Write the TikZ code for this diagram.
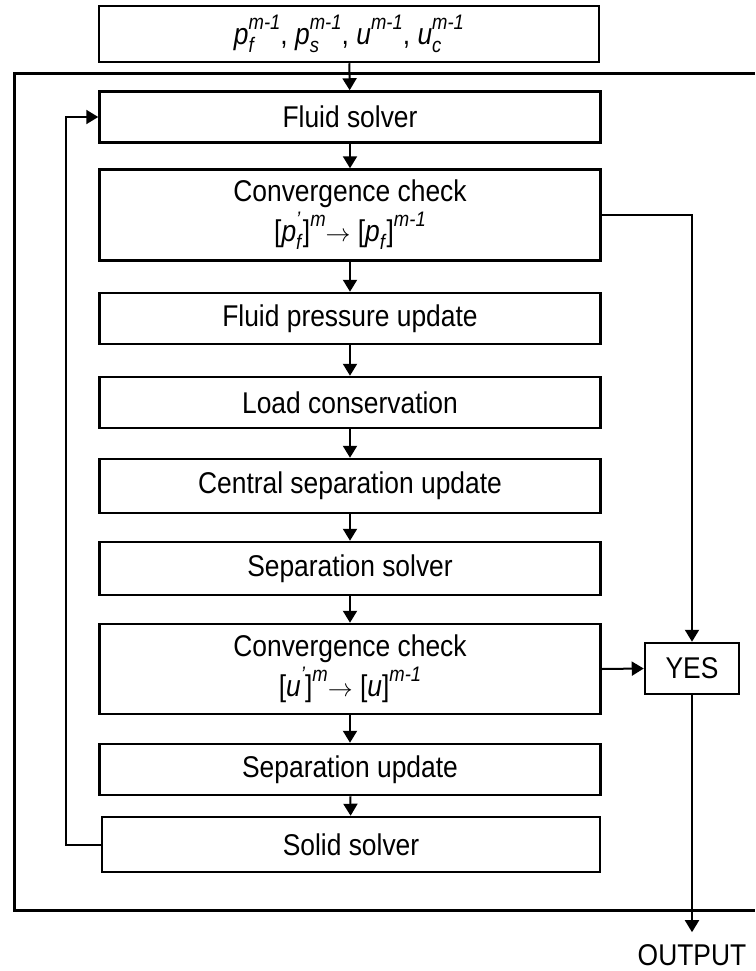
\documentclass[tikz,border=0pt]{standalone}
\usepackage{fontspec}
\setmainfont[FakeStretch=0.88]{Liberation Sans}
\usetikzlibrary{arrows.meta,positioning,calc}
% scripts: italic, smaller
\newcommand\scr[1]{{\fontsize{21}{21}\selectfont\textit{#1}}}
\newcommand\supx[1]{\raisebox{0.95ex}{\scr{#1}}}
\newcommand\subx[1]{\raisebox{-0.5ex}{\scr{#1}}}
% italic base with stacked sub/superscript
\newcommand\varsub[3]{\textit{#1}\begingroup\sbox0{\subx{#2}}\sbox2{\supx{#3}}%
  \ifdim\wd0>\wd2 \rlap{\usebox2}\usebox0\else\rlap{\usebox0}\usebox2\fi\endgroup}
\tikzset{
  >={Triangle[length=12pt,width=14pt]},
  every node/.style={font=\fontsize{30}{40}\selectfont,inner sep=0pt},
  box/.style={draw,line width=2.5pt,minimum width=501pt,minimum height=51pt,align=center},
  cbox/.style={box,minimum height=91pt},
  conn/.style={line width=2pt},
  frame/.style={line width=3pt},
}

\begin{document}
\begin{tikzpicture}[x=1pt,y=-1pt]
  \useasboundingbox (0,0) rectangle (755,971);
  % outer frame, open on the right
  \draw[frame] (755,74) -- (14,74) -- (14,910) -- (755,910);

  % input values
  \node[box,minimum width=500pt,minimum height=56pt] (inp) at (349,34)
    {\varsub{p}{f}{m-1}, \varsub{p}{s}{m-1}, \textit{u}\supx{m-1}, \varsub{u}{c}{m-1}};

  % main column
  \node[box]  (fs)  at (350,117)   {Fluid solver};
  \node[cbox] (cc1) at (350,215)   {Convergence check\\{}[\varsub{p}{f}{'}]\supx{m}$\rightarrow$ [\textit{p}\subx{f}]\supx{m-1}};
  \node[box]  (fpu) at (350,318.5) {Fluid pressure update};
  \node[box]  (lc)  at (350,402.5) {Load conservation};
  \node[box,minimum height=54pt] (csu) at (350,486) {Central separation update};
  \node[box,minimum height=53pt] (ss)  at (350,568.5) {Separation solver};
  \node[cbox,minimum height=90pt] (cc2) at (350,669) {Convergence check\\{}[\textit{u}\supx{'}]\supx{m}$\rightarrow$ [\textit{u}]\supx{m-1}};
  \node[box]  (su)  at (350,769.5) {Separation update};
  \node[box,minimum width=498pt,minimum height=55pt] (sol) at (351,844.5) {Solid solver};

  % exit
  \node[draw,line width=2.5pt,minimum width=94pt,minimum height=51pt] (yes) at (692,668.5) {YES};
  \node (out) at (692,955) {OUTPUT};

  \draw[conn,->] (inp) -- (fs);
  \draw[conn,->] (fs) -- (cc1);
  \draw[conn,->] (cc1) -- (fpu);
  \draw[conn,->] (fpu) -- (lc);
  \draw[conn,->] (lc) -- (csu);
  \draw[conn,->] (csu) -- (ss);
  \draw[conn,->] (ss) -- (cc2);
  \draw[conn,->] (cc2) -- (su);
  \draw[conn,->] (su) -- (sol);

  \draw[conn,->] (cc1.east) -| (yes.north);
  \draw[conn,->] (cc2.east) -- (yes.west);
  \draw[conn,->,shorten >=12pt] (yes.south) -- (out.north);

  % feedback loop
  \draw[conn,->] (sol.west) -- ++(-35,0) |- (fs.west);
\end{tikzpicture}
\end{document}
